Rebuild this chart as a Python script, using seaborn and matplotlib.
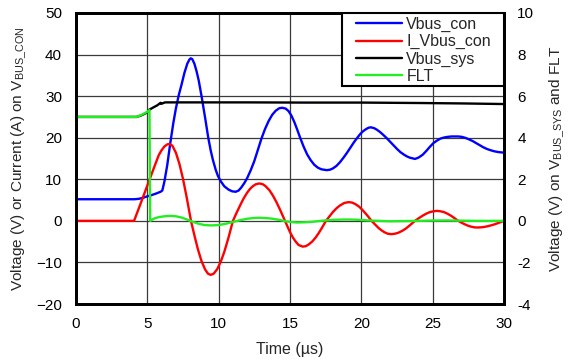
import matplotlib
matplotlib.use("Agg")
import matplotlib.pyplot as plt
import seaborn as sns
import pandas as pd
from matplotlib.lines import Line2D
from matplotlib.patches import Rectangle

# ---- data ----
t_con = [0, 4.1, 4.4, 4.7, 5.0, 5.3, 5.6, 5.93, 6.05, 6.2, 6.4, 6.6, 6.82, 7.0, 7.2, 7.4, 7.6, 7.8,
         7.95, 8.04, 8.15, 8.3, 8.45, 8.6, 8.8, 9.05, 9.27, 9.45, 9.6, 9.8, 9.95, 10.15, 10.4, 10.7,
         10.95, 11.2, 11.4, 11.6, 11.8, 12.0, 12.25, 12.5, 12.75, 13.0, 13.25, 13.5, 13.75, 14.0,
         14.25, 14.46, 14.7, 14.9, 15.1, 15.3, 15.5, 15.7, 15.95, 16.2, 16.45, 16.7, 16.95, 17.2,
         17.57, 17.8, 18.0, 18.25, 18.5, 18.75, 19.0, 19.25, 19.5, 19.7, 19.9, 20.1, 20.3, 20.5,
         20.67, 20.9, 21.1, 21.3, 21.5, 21.75, 22.0, 22.25, 22.5, 22.75, 23.0, 23.2, 23.4, 23.76,
         24.0, 24.3, 24.55, 24.8, 25.05, 25.3, 25.55, 25.8, 26.05, 26.3, 26.8, 27.05, 27.3, 27.55,
         27.8, 28.05, 28.3, 28.55, 28.8, 29.05, 29.3, 29.6, 30]
vbus_con = [5.2, 5.2, 5.3, 5.55, 5.9, 6.2, 6.55, 7.0, 7.3, 9.5, 13.5, 18.5, 23.5, 27.0, 30.2, 32.8, 35.6, 37.8,
            38.8, 39.1, 38.9, 37.8, 36.0, 33.8, 30.0, 24.8, 20.0, 16.8, 14.6, 12.2, 10.8, 9.5, 8.3, 7.5,
            7.1, 7.0, 7.3, 8.1, 9.1, 10.3, 12.2, 14.4, 17.1, 19.8, 22.1, 24.0, 25.5, 26.5,
            27.1, 27.2, 27.0, 26.4, 25.3, 23.8, 22.0, 20.1, 17.9, 16.0, 14.6, 13.5, 12.8, 12.4,
            12.2, 12.3, 12.6, 13.2, 14.1, 15.2, 16.4, 17.7, 19.0, 19.9, 20.8, 21.5, 22.0, 22.4,
            22.5, 22.3, 21.9, 21.4, 20.8, 20.0, 19.1, 18.2, 17.3, 16.5, 15.9, 15.5, 15.2, 14.9,
            15.2, 15.9, 16.8, 17.8, 18.7, 19.3, 19.8, 20.05, 20.2, 20.3, 20.3, 20.2, 19.95, 19.6,
            19.2, 18.7, 18.2, 17.7, 17.3, 17.0, 16.75, 16.55, 16.4]

t_cur = [0, 4.07, 4.5, 5.0, 5.5, 5.8, 6.0, 6.2, 6.4, 6.54, 6.75, 7.0, 7.25, 7.5, 7.75, 8.06, 8.3, 8.55,
         8.8, 9.05, 9.25, 9.44, 9.65, 9.9, 10.15, 10.4, 10.7, 11.0, 11.25, 11.5, 11.75, 12.0, 12.2,
         12.4, 12.6, 12.85, 13.1, 13.3, 13.55, 13.8, 14.05, 14.3, 14.65, 14.85, 15.0, 15.2, 15.4,
         15.6, 15.89, 16.1, 16.3, 16.55, 16.8, 17.0, 17.2, 17.52, 17.75, 18.0, 18.25, 18.5, 18.8,
         19.1, 19.35, 19.6, 19.85, 20.1, 20.4, 20.72, 20.95, 21.2, 21.4, 21.6, 21.85, 22.1, 22.35,
         22.6, 22.85, 23.1, 23.4, 23.76, 24.0, 24.3, 24.55, 24.8, 25.05, 25.3, 25.55, 25.8, 26.05,
         26.3, 26.55, 26.8, 27.05, 27.3, 27.5, 27.7, 27.9, 28.1, 28.35, 28.6, 28.85, 29.1, 29.35,
         29.6, 29.8, 30]
i_vbus_con = [0, 0, 3.9, 8.5, 13.1, 15.8, 17.0, 17.9, 18.4, 18.5, 18.1, 16.4, 13.7, 10.1, 5.8, 0, -3.5, -6.9,
              -9.7, -11.7, -12.7, -13.0, -12.7, -11.6, -9.8, -7.4, -3.9, 0, 1.9, 3.7, 5.4, 6.8, 7.7,
              8.35, 8.8, 9.0, 8.8, 8.3, 7.4, 6.1, 4.5, 2.7, 0, -1.56, -2.7, -4.0, -5.0,
              -5.8, -6.2, -6.1, -5.7, -5.0, -4.0, -3.0, -1.9, 0, 1.0, 2.1, 3.0, 3.7, 4.3,
              4.5, 4.4, 4.0, 3.4, 2.55, 1.37, 0, -0.83, -1.7, -2.24, -2.7, -3.1, -3.2, -3.1,
              -2.85, -2.43, -1.9, -1.07, 0, 0.58, 1.25, 1.73, 2.1, 2.3, 2.4, 2.3, 2.1, 1.7,
              1.2, 0.6, 0, -0.5, -0.9, -1.2, -1.4, -1.55, -1.6, -1.57, -1.47, -1.3, -1.08, -0.82,
              -0.52, -0.25, 0.05]

t_sys = [0, 4.25, 4.6, 5.0, 5.12, 5.4, 5.7, 5.93, 5.98, 6.24, 8, 12, 16, 20, 24, 27, 30]
vbus_sys = [5.0, 5.0, 5.08, 5.22, 5.34, 5.45, 5.56, 5.68, 5.63, 5.7, 5.7, 5.7, 5.69, 5.69, 5.67, 5.65, 5.62]

t_flt = [0, 4.25, 4.6, 5.0, 5.15, 5.2, 5.5, 5.8, 6.2, 6.6, 7.0, 7.4, 7.8, 8.2, 8.6, 9.0, 9.5, 10.0,
         10.5, 11.0, 11.5, 12.0, 12.5, 12.9, 13.4, 13.8, 14.3, 14.7, 15.1, 15.5, 16.0, 16.5, 17.0,
         17.5, 18.0, 18.5, 19.0, 19.5, 20.0, 20.5, 21.2, 22, 23, 24, 25, 26, 27, 28, 30]
flt = [5.0, 5.0, 5.1, 5.25, 5.33, 0.0, 0.12, 0.18, 0.22, 0.24, 0.22, 0.16, 0.06, -0.05, -0.14, -0.2, -0.22, -0.2,
       -0.14, -0.05, 0.03, 0.1, 0.14, 0.15, 0.13, 0.1, 0.04, -0.02, -0.06, -0.08, -0.07, -0.05, -0.01,
       0.02, 0.05, 0.06, 0.065, 0.06, 0.04, 0.02, 0.0, -0.02, -0.01, 0.0, 0.015, 0.02, 0.01, 0.0, 0.0]

labels = ["Vbus_con", "I_Vbus_con", "Vbus_sys", "FLT"]
colors = ["#0000FF", "#FF0000", "#000000", "#22EE22"]
x_ticks = [0, 5, 10, 15, 20, 25, 30]
left_ticks = [-20, -10, 0, 10, 20, 30, 40, 50]
right_ticks = [-4, -2, 0, 2, 4, 6, 8, 10]
right_ticklabels = ["-4", "-2", "0", "2", "4", "6", "8", "10"]

# ---- plot ----
sns.set_theme(style="white")
plt.rcParams["font.family"] = ["Liberation Sans", "DejaVu Sans"]
plt.rcParams["mathtext.fontset"] = "custom"
plt.rcParams["mathtext.rm"] = "Liberation Sans"
plt.rcParams["mathtext.it"] = "Liberation Sans"

W, H = 568, 360
fig = plt.figure(figsize=(W / 100, H / 100), dpi=100)
ax = fig.add_axes([76 / W, 1 - 304 / H, 428 / W, 291 / H])
ax2 = ax.twinx()

lw = 1.7
df_con = pd.DataFrame({"t": t_con, "v": vbus_con})
df_cur = pd.DataFrame({"t": t_cur, "v": i_vbus_con})
df_sys = pd.DataFrame({"t": t_sys, "v": vbus_sys})
df_flt = pd.DataFrame({"t": t_flt, "v": flt})

sns.lineplot(data=df_con, x="t", y="v", ax=ax, color=colors[0], lw=lw, sort=False)
sns.lineplot(data=df_cur, x="t", y="v", ax=ax, color=colors[1], lw=lw, sort=False)
sns.lineplot(data=df_sys, x="t", y="v", ax=ax2, color=colors[2], lw=lw, sort=False)
sns.lineplot(data=df_flt, x="t", y="v", ax=ax2, color=colors[3], lw=lw, sort=False)

ax.set_xlim(0, 30)
ax.set_ylim(-20, 50)
ax2.set_ylim(-4, 10)
ax.set_xticks(x_ticks)
ax.set_yticks(left_ticks)
ax2.set_yticks(right_ticks)
ax2.set_yticklabels(right_ticklabels)

ax.grid(True, color="#3a3a3a", lw=0.9)
ax.set_axisbelow(True)
fs = 11
ax.tick_params(axis="x", length=0, labelsize=fs, colors="black", pad=9.5)
ax.tick_params(axis="y", length=0, labelsize=fs, colors="black", pad=10)
ax2.tick_params(axis="y", length=0, labelsize=fs, colors="black", pad=9.5)
for a in (ax, ax2):
    for s in a.spines.values():
        s.set_color("black")
        s.set_linewidth(2)

lfs = 11.1
ax.set_xlabel("Time (µs)", fontsize=11.5, labelpad=8)
ax.set_ylabel(r"Voltage (V) or Current (A) on V$_{\mathrm{BUS\_CON}}$", fontsize=lfs, labelpad=5)
ax2.set_ylabel(r"Voltage (V) on V$_{\mathrm{BUS\_SYS}}$ and FLT", fontsize=lfs, labelpad=10)

# legend box (white, black frame) spanning the top-right corner
x0 = (342 - 76) / 428
y0 = (304 - 86) / 291
ax2.add_patch(Rectangle((x0, y0), 1 - x0, 1 - y0, transform=ax2.transAxes,
                        facecolor="white", edgecolor="black", lw=1.5, zorder=5, clip_on=False))
handles = [Line2D([], [], color=c, lw=lw) for c in colors]
leg = ax2.legend(handles, labels, loc="upper left",
                 bbox_to_anchor=((356 - 76) / 428, (304 - 17) / 291),
                 fontsize=11.5, frameon=False, handlelength=2.9, handletextpad=0.25,
                 labelspacing=0.13, borderpad=0, borderaxespad=0)
leg.set_zorder(6)

fig.savefig("out.png", dpi=100)
